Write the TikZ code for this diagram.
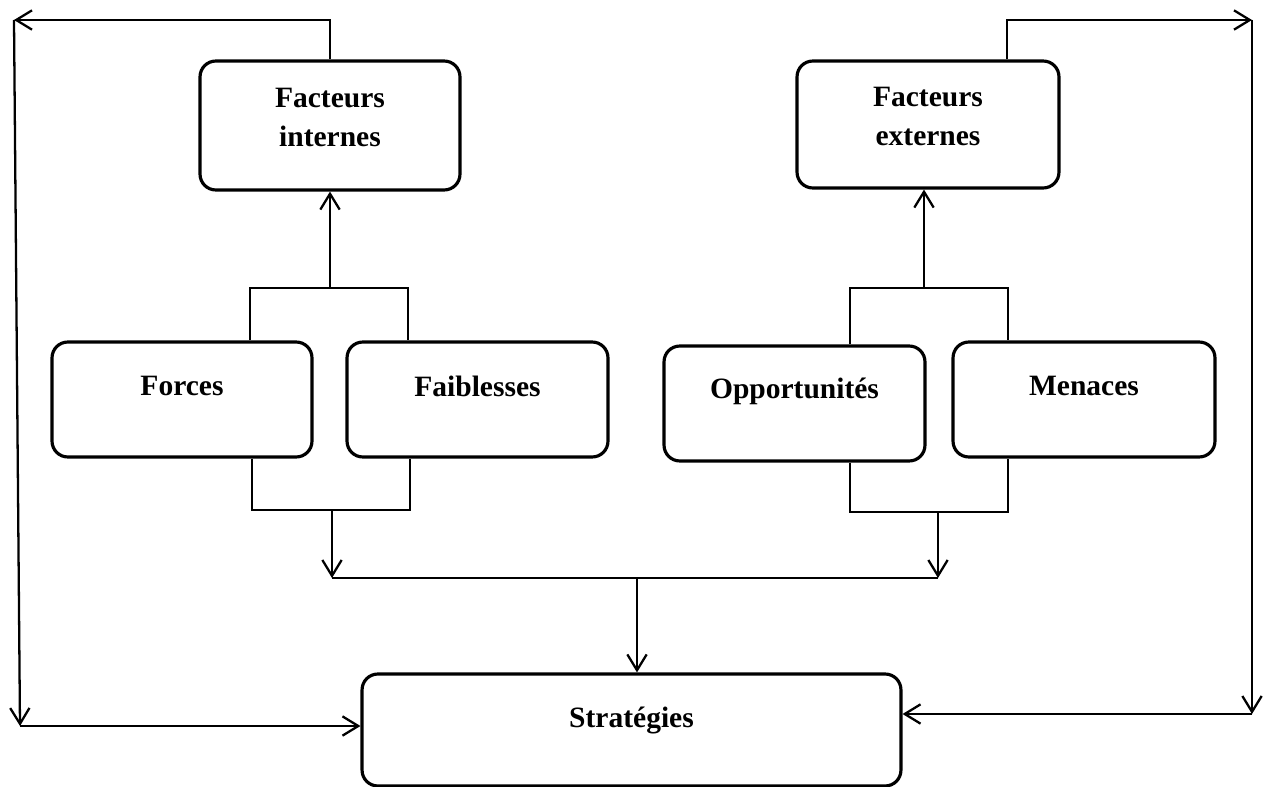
\documentclass[tikz,border=0pt]{standalone}
\usepackage{fontspec}
\setmainfont{Liberation Serif}
\usepackage{tikz}
\usetikzlibrary{arrows.meta}
\definecolor{ColLine}{RGB}{0,0,0}
\tikzstyle{NodeBox}=[rectangle,rounded corners=9pt,draw=ColLine,line width=1.8pt,
minimum width=5.2cm,minimum height=2.3cm,inner sep=0pt]
\tikzstyle{NodeText}=[align=center,inner sep=0pt,font=\bfseries\fontsize{16.8}{22}\selectfont]
\tikzstyle{EdgeLink}=[ColLine,line width=1.3pt]
\tikzstyle{EdgeArrow}=[EdgeLink,-{Straight Barb[length=9pt,width=11pt]}]

\begin{document}
\begin{tikzpicture}[x=0.02cm,y=-0.02cm]
        \useasboundingbox(0,0)rectangle(1268,787);
        \node[NodeBox,minimum height=2.58cm,label={[NodeText,yshift=0.16cm]center:{Facteurs\\internes}}](fint)at(330,125.5){};
        \node[NodeBox,minimum width=5.24cm,minimum height=2.54cm,label={[NodeText,yshift=0.16cm]center:{Facteurs\\externes}}](fext)at(928,124.5){};
        \node[NodeBox,label={[NodeText,yshift=0.27cm]center:Forces}](forces)at(182,399.5){};
        \node[NodeBox,minimum width=5.22cm,label={[NodeText,yshift=0.27cm]center:Faiblesses}](faib)at(477.5,399.5){};
        \node[NodeBox,minimum width=5.22cm,label={[NodeText,yshift=0.25cm]center:Opportunités}](oppo)at(794.5,403.5){};
        \node[NodeBox,minimum width=5.24cm,label={[NodeText,yshift=0.27cm]center:Menaces}](men)at(1084,399.5){};
        \node[NodeBox,minimum width=10.78cm,minimum height=2.24cm,label={[NodeText,yshift=0.2cm]center:Stratégies}](strat)at(631.5,730){};
        % corners of the feedback loops
        \coordinate(cornTL)at(14,20);
        \coordinate(cornBL)at(20,726);
        \coordinate(upExt)at(1007,20);
        \coordinate(cornTR)at(1252,20);
        \coordinate(cornBR)at(1252,714);
        \draw[EdgeArrow](fint.north)|-(cornTL);
        \draw[EdgeArrow](cornTL)--(cornBL);
        \draw[EdgeArrow](cornBL)--(strat.west|-cornBL);
        \draw[EdgeArrow](fext.north-|upExt)--(upExt)--(cornTR);
        \draw[EdgeArrow](cornTR)--(cornBR);
        \draw[EdgeArrow](cornBR)--(strat.east|-cornBR);
        % brackets
        \coordinate(topL1)at(250,288);
        \coordinate(topL2)at(408,288);
        \coordinate(topR1)at(850,288);
        \coordinate(topR2)at(1008,288);
        \coordinate(topRM)at(924,288);
        \coordinate(botL1)at(252,510);
        \coordinate(botL2)at(410,510);
        \coordinate(botR1)at(850,512);
        \coordinate(botR2)at(1008,512);
        \draw[EdgeLink](forces.north-|topL1)--(topL1)--(topL2)--(faib.north-|topL2);
        \draw[EdgeLink](oppo.north-|topR1)--(topR1)--(topR2)--(men.north-|topR2);
        \draw[EdgeLink](forces.south-|botL1)--(botL1)--(botL2)--(faib.south-|botL2);
        \draw[EdgeLink](oppo.south-|botR1)--(botR1)--(botR2)--(men.south-|botR2);
        \draw[EdgeArrow](fint.south|-topL1)--(fint.south);
        \draw[EdgeArrow](topRM)--(fext.south-|topRM);
        % bus to the strategies
        \coordinate(busL)at(332,578);
        \coordinate(busM)at(637,578);
        \coordinate(busR)at(938,578);
        \draw[EdgeArrow](busL|-botL1)--(busL);
        \draw[EdgeArrow](busR|-botR1)--(busR);
        \draw[EdgeLink](busL)--(busR);
        \draw[EdgeArrow](busM)--(busM|-strat.north);
    \end{tikzpicture}
\end{document}
